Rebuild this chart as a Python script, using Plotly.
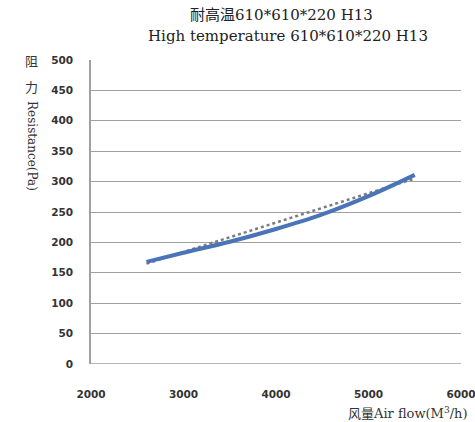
import plotly.graph_objects as go

# Data
airflow = [2600, 3000, 3500, 4000, 4500, 5000, 5500]
resistance = [168, 183, 201, 222, 246, 276, 311]
trend_x = [2600, 5500]
trend_y = [165, 305]

x_ticks = [2000, 3000, 4000, 5000, 6000]
y_ticks = [0, 50, 100, 150, 200, 250, 300, 350, 400, 450, 500]

title_line1 = "耐高温610*610*220 H13"
title_line2 = "High temperature 610*610*220 H13"
x_title = "风量Air flow(M<sup>3</sup>/h)"

serif = "DejaVu Serif, Noto Sans CJK SC, serif"
tickfont = dict(family="DejaVu Sans", size=10.5, color="#333333", weight="bold")

fig = go.Figure()
fig.add_trace(go.Scatter(x=trend_x, y=trend_y, mode="lines",
                         line=dict(color="#7c7c7c", width=2.5, dash="dot"),
                         hoverinfo="skip", showlegend=False))
fig.add_trace(go.Scatter(x=airflow, y=resistance, mode="lines",
                         line=dict(color="#4a74b8", width=4, shape="spline"),
                         showlegend=False))

fig.update_layout(
    width=475, height=422,
    margin=dict(l=91, r=14, t=60, b=58, autoexpand=False),
    paper_bgcolor="white", plot_bgcolor="white",
    showlegend=False,
    xaxis=dict(range=[2000, 6000], tickvals=x_ticks, ticktext=[str(v) for v in x_ticks],
               showgrid=False, zeroline=False, showline=False,
               ticks="outside", ticklen=20, tickcolor="rgba(0,0,0,0)",
               ticklabeloverflow="allow", automargin=False,
               tickfont=tickfont),
    yaxis=dict(range=[0, 500], tickvals=y_ticks, ticktext=[str(v) for v in y_ticks],
               showgrid=True, gridcolor="#a0a0a0", gridwidth=1.3,
               zeroline=False, showline=True, linecolor="#a0a0a0", linewidth=1.5,
               ticks="outside", ticklen=14, tickcolor="rgba(0,0,0,0)",
               automargin=False,
               tickfont=tickfont),
)

# bottom axis line at y=0
fig.add_shape(type="line", xref="paper", yref="y", x0=0, x1=1, y0=0, y1=0,
              line=dict(color="#a0a0a0", width=1.5))

fig.add_annotation(text=title_line1, xref="paper", yref="paper",
                   x=(281 - 91) / 370, y=1 + (60 - 15) / 304, xanchor="center", yanchor="middle",
                   showarrow=False, font=dict(family=serif, size=15, color="#222222"))
fig.add_annotation(text=title_line2, xref="paper", yref="paper",
                   x=(288 - 91) / 370, y=1 + (60 - 36) / 304, xanchor="center", yanchor="middle",
                   showarrow=False, font=dict(family=serif, size=15, color="#222222"))

# y-axis title: upright CJK chars then rotated Latin text
fig.add_annotation(text="阻", xref="paper", yref="paper",
                   x=(31 - 91) / 370, y=1 - (61 - 60) / 304, xanchor="center", yanchor="middle",
                   showarrow=False, font=dict(family="Noto Sans CJK SC", size=13, color="#333333"))
fig.add_annotation(text="力", xref="paper", yref="paper",
                   x=(31 - 91) / 370, y=1 - (86 - 60) / 304, xanchor="center", yanchor="middle",
                   showarrow=False, font=dict(family="Noto Sans CJK SC", size=13, color="#333333"))
fig.add_annotation(text="Resistance(Pa)", xref="paper", yref="paper", textangle=90,
                   x=(32 - 91) / 370, y=1 - (146 - 60) / 304, xanchor="center", yanchor="middle",
                   showarrow=False, font=dict(family=serif, size=12, color="#333333"))

# x-axis title, bottom right (clipped by the page edge like the reference)
fig.add_annotation(text=x_title, xref="paper", yref="paper",
                   x=(346 - 91) / 370, y=-(413 - 364) / 304, xanchor="left", yanchor="middle",
                   showarrow=False, font=dict(family=serif, size=13, color="#333333"))

fig.write_html("out.html", config={"displayModeBar": False},
               post_script="document.body.style.margin='0';document.body.style.overflow='hidden';")
